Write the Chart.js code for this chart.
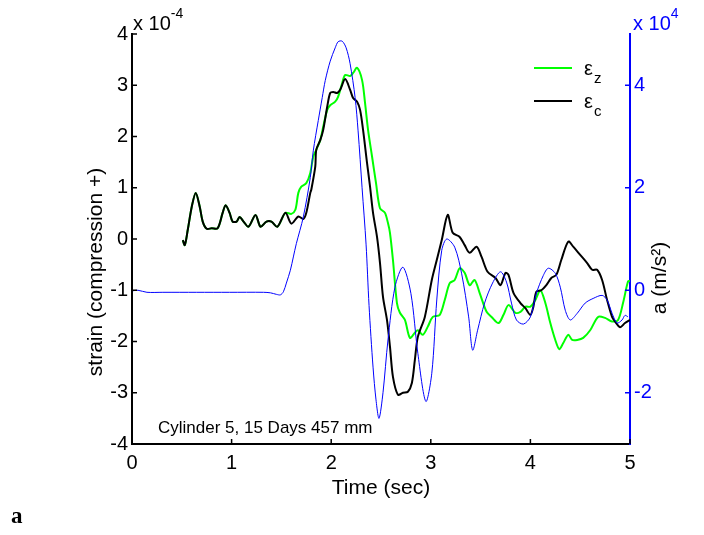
<!DOCTYPE html>
<html>
<head>
<meta charset="utf-8">
<script src="https://cdn.jsdelivr.net/npm/chart.js@4.4.0/dist/chart.umd.min.js"></script>
<style>
  html, body { margin: 0; padding: 0; background: #fff; }
  #wrap { width: 704px; height: 535px; }
</style>
</head>
<body>
<div id="wrap"><canvas id="chart" width="704" height="535"></canvas></div>
<script>
// strain values are in units of 1e-4, acceleration in units of 1e4 m/s^2
var timeTicks = [0, 1, 2, 3, 4, 5];
var strainTicks = [-4, -3, -2, -1, 0, 1, 2, 3, 4];
var accelTicks = [-2, 0, 2, 4];

var timeC = [0.51, 0.53, 0.56, 0.60, 0.64, 0.68, 0.71, 0.75, 0.80, 0.86, 0.91, 0.94, 0.98, 1.01, 1.05, 1.08, 1.12, 1.17, 1.24, 1.29, 1.35, 1.40, 1.46, 1.54,
  1.60, 1.67, 1.72, 1.75, 1.79, 1.80, 1.84, 1.85, 1.89, 1.92, 1.96, 1.99, 2.02, 2.06, 2.09, 2.14, 2.19, 2.22, 2.26, 2.29, 2.32, 2.36, 2.39, 2.42, 2.46, 2.49,
  2.52, 2.56, 2.59, 2.62, 2.67, 2.72, 2.77, 2.81, 2.84, 2.87, 2.94, 3.01, 3.06, 3.11, 3.17, 3.22, 3.29, 3.34, 3.39, 3.46, 3.51, 3.57, 3.65, 3.70, 3.75,
  3.78, 3.83, 3.90, 3.95, 4.00, 4.03, 4.06, 4.11, 4.16, 4.21, 4.26, 4.31, 4.38, 4.43, 4.50, 4.57, 4.62, 4.67, 4.72, 4.77, 4.82, 4.85, 4.90, 4.95, 5.00];
var strainC = [-0.02, -0.12, 0.18, 0.63, 0.90, 0.63, 0.34, 0.20, 0.21, 0.21, 0.51, 0.66, 0.51, 0.34, 0.34, 0.43, 0.34, 0.24, 0.47, 0.24, 0.34, 0.34, 0.24, 0.51,
  0.30, 0.44, 0.39, 0.51, 0.90, 0.96, 1.41, 1.74, 1.93, 2.13, 2.58, 2.85, 2.87, 2.85, 2.91, 3.12, 2.91, 2.75, 2.68, 2.52, 2.13, 1.48, 1.02, 0.51, 0.04, -0.47,
  -1.13, -1.58, -2.10, -2.69, -3.04, -3.00, -2.98, -2.81, -2.36, -1.91, -1.52, -0.80, -0.41, -0.02, 0.47, 0.12, 0.04, -0.12, -0.27, -0.15, -0.35, -0.64, -0.76, -0.90, -0.66,
  -0.70, -1.05, -1.25, -1.35, -1.48, -1.32, -1.03, -1.00, -0.90, -0.76, -0.70, -0.41, -0.05, -0.15, -0.31, -0.47, -0.60, -0.60, -0.80, -1.19, -1.52, -1.61, -1.72, -1.64, -1.58];

var timeZ = [0.51, 0.53, 0.56, 0.60, 0.64, 0.68, 0.71, 0.75, 0.80, 0.86, 0.91, 0.94, 0.98, 1.01, 1.05, 1.08, 1.12, 1.17, 1.24, 1.29, 1.35, 1.40, 1.46, 1.54,
  1.60, 1.64, 1.67, 1.70, 1.75, 1.79, 1.82, 1.85, 1.89, 1.92, 1.96, 1.99, 2.04, 2.07, 2.11, 2.14, 2.19, 2.22, 2.26, 2.31, 2.34, 2.37, 2.41, 2.45, 2.49,
  2.54, 2.57, 2.59, 2.62, 2.66, 2.69, 2.74, 2.79, 2.84, 2.87, 2.92, 2.97, 3.02, 3.09, 3.14, 3.19, 3.24, 3.29, 3.34, 3.39, 3.44, 3.49, 3.56, 3.61, 3.68,
  3.73, 3.78, 3.85, 3.90, 3.95, 4.00, 4.05, 4.10, 4.15, 4.20, 4.25, 4.29, 4.33, 4.38, 4.42, 4.47, 4.53, 4.60, 4.68, 4.75, 4.82, 4.88, 4.93, 4.98, 5.00];
var strainZ = [-0.02, -0.12, 0.18, 0.63, 0.90, 0.63, 0.34, 0.20, 0.21, 0.21, 0.51, 0.66, 0.51, 0.34, 0.34, 0.43, 0.34, 0.24, 0.47, 0.24, 0.34, 0.34, 0.24, 0.51,
  0.49, 0.57, 0.90, 1.02, 1.09, 1.29, 1.61, 1.74, 1.93, 2.19, 2.52, 2.61, 2.68, 2.78, 3.04, 3.20, 3.18, 3.24, 3.34, 3.10, 2.65, 2.13, 1.61, 1.09, 0.60,
  0.51, 0.31, 0.12, -0.41, -1.25, -1.44, -1.58, -1.93, -1.83, -1.78, -1.87, -1.71, -1.52, -1.48, -1.19, -0.86, -0.80, -0.57, -0.66, -0.90, -0.80, -1.05, -1.42, -1.52, -1.64,
  -1.48, -1.29, -1.44, -1.42, -1.32, -1.32, -1.19, -1.00, -1.25, -1.64, -1.97, -2.15, -2.03, -1.87, -1.97, -1.97, -1.93, -1.78, -1.52, -1.54, -1.61, -1.58, -1.25, -0.83, -0.82];

var timeA = [0.01, 0.06, 0.15, 0.31, 0.65, 0.98, 1.32, 1.39, 1.45, 1.49, 1.52, 1.55, 1.59, 1.62, 1.65, 1.72, 1.79, 1.82, 1.87, 1.91, 1.94, 1.99, 2.04, 2.07,
  2.11, 2.15, 2.19, 2.24, 2.27, 2.31, 2.35, 2.38, 2.42, 2.45, 2.48, 2.52, 2.57, 2.64, 2.72, 2.80, 2.87, 2.95, 3.01, 3.06, 3.11, 3.16, 3.24, 3.31, 3.38, 3.42,
  3.47, 3.54, 3.62, 3.70, 3.76, 3.81, 3.86, 3.93, 4.00, 4.06, 4.13, 4.18, 4.25, 4.30, 4.35, 4.40, 4.47, 4.55, 4.63, 4.72, 4.77, 4.82, 4.87, 4.92, 4.95, 4.98];
var accelA = [-0.01, 0.00, -0.04, -0.04, -0.04, -0.04, -0.04, -0.05, -0.08, -0.09, -0.03, 0.14, 0.39, 0.65, 0.91, 1.43, 2.20, 2.72, 3.31, 3.76, 4.09, 4.47, 4.73, 4.85,
  4.86, 4.73, 4.42, 3.76, 3.11, 2.00, 0.90, -0.30, -1.50, -2.14, -2.50, -2.00, -0.97, 0.06, 0.45, -0.06, -1.23, -2.17, -1.62, -0.19, 0.78, 1.00, 0.84, 0.32, -0.52, -1.17,
  -0.78, -0.25, 0.14, 0.36, 0.16, -0.25, -0.58, -0.66, -0.52, -0.06, 0.29, 0.43, 0.33, 0.06, -0.39, -0.58, -0.45, -0.25, -0.16, -0.10, -0.19, -0.45, -0.64, -0.58, -0.49, -0.52];

function pairs(xs, ys) {
  return xs.map(function(t, i) { return { x: t, y: ys[i] }; });
}

var font = 'Liberation Sans, Arial, sans-serif';

var decor = {
  id: 'decor',
  afterDraw: function(chart) {
    var ctx = chart.ctx;
    var sx = chart.scales.x, sl = chart.scales.y, sr = chart.scales.y2;
    var area = chart.chartArea;
    ctx.save();
    // inward tick marks like matlab
    ctx.lineWidth = 1.5;
    ctx.strokeStyle = '#000';
    ctx.beginPath();
    strainTicks.forEach(function(v) {
      var y = sl.getPixelForValue(v);
      ctx.moveTo(area.left, y); ctx.lineTo(area.left + 5, y);
    });
    timeTicks.forEach(function(v) {
      var x = sx.getPixelForValue(v);
      ctx.moveTo(x, area.bottom); ctx.lineTo(x, area.bottom - 5);
    });
    ctx.stroke();
    ctx.strokeStyle = '#0000ff';
    ctx.beginPath();
    accelTicks.forEach(function(v) {
      var y = sr.getPixelForValue(v);
      ctx.moveTo(area.right, y); ctx.lineTo(area.right - 5, y);
    });
    ctx.stroke();

    // exponents
    ctx.textBaseline = 'alphabetic';
    ctx.textAlign = 'left';
    ctx.fillStyle = '#000';
    ctx.font = '20px ' + font;
    ctx.fillText('x 10', area.left + 1, 30);
    var w = ctx.measureText('x 10').width;
    ctx.font = '14px ' + font;
    ctx.fillText('-4', area.left + 1 + w, 18);
    ctx.fillStyle = '#0000ff';
    ctx.font = '20px ' + font;
    ctx.fillText('x 10', area.right + 3, 30);
    w = ctx.measureText('x 10').width;
    ctx.font = '14px ' + font;
    ctx.fillText('4', area.right + 3 + w, 18);

    // legend
    var items = [
      { ds: chart.data.datasets[2], sub: 'z', y: 68 },
      { ds: chart.data.datasets[1], sub: 'c', y: 101 }
    ];
    items.forEach(function(it) {
      ctx.strokeStyle = it.ds.borderColor;
      ctx.lineWidth = 2;
      ctx.beginPath();
      ctx.moveTo(534, it.y); ctx.lineTo(572, it.y);
      ctx.stroke();
      ctx.fillStyle = '#000';
      ctx.font = '20px ' + font;
      ctx.fillText('\u03b5', 584, it.y + 7);
      var ew = ctx.measureText('\u03b5').width;
      ctx.font = '15px ' + font;
      ctx.fillText(it.sub, 584 + ew + 1, it.y + 15);
    });

    // annotation
    ctx.fillStyle = '#000';
    ctx.font = '17px ' + font;
    ctx.fillText('Cylinder 5, 15 Days 457 mm', 158, 433);

    // axis titles
    ctx.font = '21px ' + font;
    ctx.textAlign = 'center';
    ctx.textBaseline = 'middle';
    ctx.fillText('Time (sec)', (area.left + area.right) / 2, 488);
    ctx.save();
    ctx.translate(96, 272);
    ctx.rotate(-Math.PI / 2);
    ctx.fillText('strain (compression +)', 0, 0);
    ctx.restore();
    ctx.save();
    ctx.translate(660, 278);
    ctx.rotate(-Math.PI / 2);
    ctx.fillText('a (m/s\u00b2)', 0, 0);
    ctx.restore();

    // panel letter
    ctx.textAlign = 'left';
    ctx.textBaseline = 'alphabetic';
    ctx.font = 'bold 23px Liberation Serif, Times New Roman, serif';
    ctx.fillText('a', 11, 523);
    ctx.restore();
  }
};

var ctx = document.getElementById('chart').getContext('2d');
var chart = new Chart(ctx, {
  type: 'line',
  data: {
    datasets: [{
      label: 'a',
      data: pairs(timeA, accelA),
      yAxisID: 'y2',
      borderColor: '#0000ff',
      borderWidth: 1,
      order: 0
    }, {
      label: '\u03b5c',
      data: pairs(timeC, strainC),
      yAxisID: 'y',
      borderColor: '#000000',
      borderWidth: 2,
      order: 1
    }, {
      label: '\u03b5z',
      data: pairs(timeZ, strainZ),
      yAxisID: 'y',
      borderColor: '#00ff00',
      borderWidth: 2,
      order: 2
    }]
  },
  options: {
    responsive: false,
    animation: false,
    devicePixelRatio: 1,
    layout: { padding: { top: 34, left: 0, right: 0, bottom: 0 } },
    elements: {
      point: { radius: 0 },
      line: { tension: 0.3, fill: false }
    },
    plugins: {
      legend: { display: false },
      tooltip: { enabled: false }
    },
    scales: {
      x: {
        type: 'linear',
        min: 0,
        max: 5,
        afterFit: function(s) { s.height = 91; },
        afterBuildTicks: function(s) { s.ticks = timeTicks.map(function(v) { return { value: v }; }); },
        grid: { display: false, drawTicks: false },
        border: { display: true, color: '#000', width: 2 },
        ticks: { color: '#000', font: { family: font, size: 20 }, padding: 7, maxRotation: 0 }
      },
      y: {
        position: 'left',
        min: -4,
        max: 4,
        afterFit: function(s) { s.width = 132; },
        afterBuildTicks: function(s) { s.ticks = strainTicks.map(function(v) { return { value: v }; }); },
        grid: { display: false, drawTicks: false },
        border: { display: true, color: '#000', width: 2 },
        ticks: { color: '#000', font: { family: font, size: 20 }, padding: 4 }
      },
      y2: {
        position: 'right',
        min: -3,
        max: 5,
        afterFit: function(s) { s.width = 74; },
        afterBuildTicks: function(s) { s.ticks = accelTicks.map(function(v) { return { value: v }; }); },
        grid: { display: false, drawTicks: false },
        border: { display: true, color: '#0000ff', width: 2 },
        ticks: { color: '#0000ff', font: { family: font, size: 20 }, padding: 4 }
      }
    }
  },
  plugins: [decor]
});
</script>
</body>
</html>
